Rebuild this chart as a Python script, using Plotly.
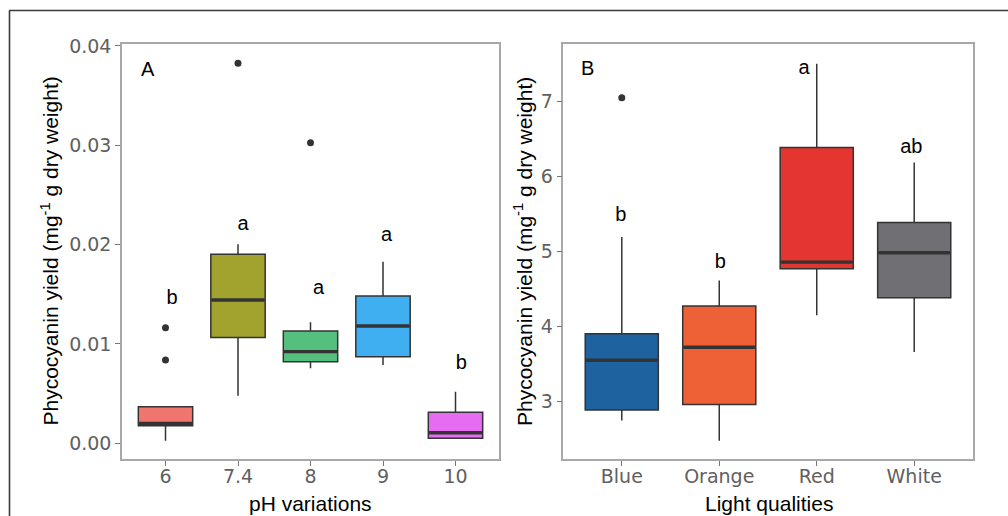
import plotly.graph_objects as go

# ---------------- data ----------------
ph_categories = ["6", "7.4", "8", "9", "10"]
ph_q1 = [0.00177, 0.01064, 0.00822, 0.00872, 0.00050]
ph_median = [0.00201, 0.01443, 0.00923, 0.01181, 0.00107]
ph_q3 = [0.00369, 0.01903, 0.01131, 0.01483, 0.00312]
ph_low = [0.00026, 0.00480, 0.00755, 0.00789, 0.00045]
ph_high = [0.00369, 0.02004, 0.01219, 0.01829, 0.00520]
ph_outlier_cat = [0, 0, 1, 2]
ph_outlier_val = [0.01164, 0.00839, 0.03827, 0.03027]
ph_letters = ["b", "a", "a", "a", "b"]
ph_letter_y = [0.01453, 0.02200, 0.01557, 0.02090, 0.00801]

light_categories = ["Blue", "Orange", "Red", "White"]
light_q1 = [2.88, 2.956, 4.767, 4.38]
light_median = [3.546, 3.72, 4.855, 4.98]
light_q3 = [3.90, 4.27, 6.386, 5.384]
light_low = [2.74, 2.47, 4.145, 3.657]
light_high = [5.19, 4.61, 7.505, 6.187]
light_outlier_cat = [0]
light_outlier_val = [7.05]
light_letters = ["b", "b", "a", "ab"]
light_letter_y = [5.473, 4.847, 7.435, 6.383]

# ---------------- style ----------------
ph_colors = ["#F0756E", "#A2A32E", "#55C07D", "#3FAFF2", "#E66CF1"]
light_colors = ["#1E63A0", "#EE6036", "#E43530", "#6F6F74"]
ph_letter_nudge = [0.09, 0.07, 0.11, 0.05, 0.08]
light_letter_nudge = [-0.01, 0.01, -0.13, -0.03]
BOX_W = 0.75
EDGE = "#333333"

fig = go.Figure()


def add_panel(cats, q1, med, q3, lo, hi, ocat, oval, letters, ly, nudge, colors, xa, ya):
    for i in range(len(cats)):
        fig.add_trace(go.Box(
            x=[i], q1=[q1[i]], median=[med[i]], q3=[q3[i]],
            lowerfence=[lo[i]], upperfence=[hi[i]],
            width=BOX_W, whiskerwidth=0, boxpoints=False,
            fillcolor=colors[i], line=dict(color=EDGE, width=1.5),
            xaxis=xa, yaxis=ya, showlegend=False, hoverinfo="skip"))
        fig.add_trace(go.Scatter(
            x=[i - BOX_W / 2 + 0.01, i + BOX_W / 2 - 0.01], y=[med[i], med[i]],
            mode="lines", line=dict(color=EDGE, width=3.4),
            xaxis=xa, yaxis=ya, showlegend=False, hoverinfo="skip"))
    fig.add_trace(go.Scatter(
        x=ocat, y=oval, mode="markers",
        marker=dict(color=EDGE, size=7),
        xaxis=xa, yaxis=ya, showlegend=False, hoverinfo="skip"))
    fig.add_trace(go.Scatter(
        x=[i + nudge[i] for i in range(len(cats))], y=ly, mode="text",
        text=letters, textposition="middle center",
        textfont=dict(family="Liberation Sans, Arial", size=20, color="black"),
        xaxis=xa, yaxis=ya, showlegend=False, hoverinfo="skip"))


add_panel(ph_categories, ph_q1, ph_median, ph_q3, ph_low, ph_high,
          ph_outlier_cat, ph_outlier_val, ph_letters, ph_letter_y,
          ph_letter_nudge, ph_colors, "x", "y")
add_panel(light_categories, light_q1, light_median, light_q3, light_low, light_high,
          light_outlier_cat, light_outlier_val, light_letters, light_letter_y,
          light_letter_nudge, light_colors, "x2", "y2")

W, H = 1008, 516


def px_x(p):
    return p / W


def px_y(p):
    return 1 - p / H


axis_common = dict(
    showgrid=False, zeroline=False, showline=True, mirror=True,
    linecolor="#A8A8A8", linewidth=1.5,
    ticks="outside", ticklen=5, tickwidth=1.3, tickcolor="#777777",
    tickfont=dict(family="DejaVu Sans", size=19, color="#606060"),
    automargin=False,
)

fig.update_layout(
    width=W, height=H,
    margin=dict(l=0, r=0, t=0, b=0, pad=0),
    paper_bgcolor="white", plot_bgcolor="white",
    boxmode="overlay",
    xaxis=dict(domain=[px_x(122), px_x(499)], range=[-0.6, 4.6],
               tickvals=list(range(len(ph_categories))), ticktext=ph_categories,
               anchor="y", ticklabelstandoff=-6, **axis_common),
    yaxis=dict(domain=[px_y(459), px_y(44)], range=[-0.00158, 0.0402],
               tickvals=[0, 0.01, 0.02, 0.03, 0.04], tickformat=".2f",
               anchor="x", **axis_common),
    xaxis2=dict(domain=[px_x(563.3), px_x(972.7)], range=[-0.6, 3.6],
                tickvals=list(range(len(light_categories))), ticktext=light_categories,
                anchor="y2", ticklabelstandoff=-6, **axis_common),
    yaxis2=dict(domain=[px_y(459), px_y(44)], range=[2.227, 7.768],
                tickvals=[3, 4, 5, 6, 7],
                anchor="x2", **axis_common),
)

title_font = dict(family="Liberation Sans, Arial", size=21, color="black")
ytitle = "Phycocyanin yield (mg<sup>-1</sup> g dry weight)"
annotations = [
    dict(text="pH variations", x=px_x(310), y=px_y(503), xref="paper", yref="paper",
         showarrow=False, font=title_font, xanchor="center", yanchor="middle"),
    dict(text="Light qualities", x=px_x(769), y=px_y(503), xref="paper", yref="paper",
         showarrow=False, font=title_font, xanchor="center", yanchor="middle"),
    dict(text=ytitle, x=px_x(49), y=px_y(251.5), xref="paper", yref="paper",
         showarrow=False, font=title_font, textangle=-90, xanchor="center", yanchor="middle"),
    dict(text=ytitle, x=px_x(522.5), y=px_y(251.5), xref="paper", yref="paper",
         showarrow=False, font=title_font, textangle=-90, xanchor="center", yanchor="middle"),
    dict(text="A", x=px_x(148), y=px_y(69), xref="paper", yref="paper",
         showarrow=False, font=dict(family="Liberation Sans, Arial", size=20, color="black"),
         xanchor="center", yanchor="middle"),
    dict(text="B", x=px_x(587), y=px_y(68), xref="paper", yref="paper",
         showarrow=False, font=dict(family="Liberation Sans, Arial", size=20, color="black"),
         xanchor="center", yanchor="middle"),
]
fig.update_layout(annotations=annotations)

# outer frame (top and left edges)
fig.add_shape(type="line", xref="paper", yref="paper",
              x0=px_x(9), x1=1, y0=px_y(10.5), y1=px_y(10.5),
              line=dict(color="#3A3A3A", width=1.6))
fig.add_shape(type="line", xref="paper", yref="paper",
              x0=px_x(9.5), x1=px_x(9.5), y0=px_y(10.5), y1=0,
              line=dict(color="#3A3A3A", width=1.6))

fig.write_html(
    "out.html",
    config={"displayModeBar": False},
    post_script="document.body.style.margin='0';document.body.style.overflow='hidden';",
)
